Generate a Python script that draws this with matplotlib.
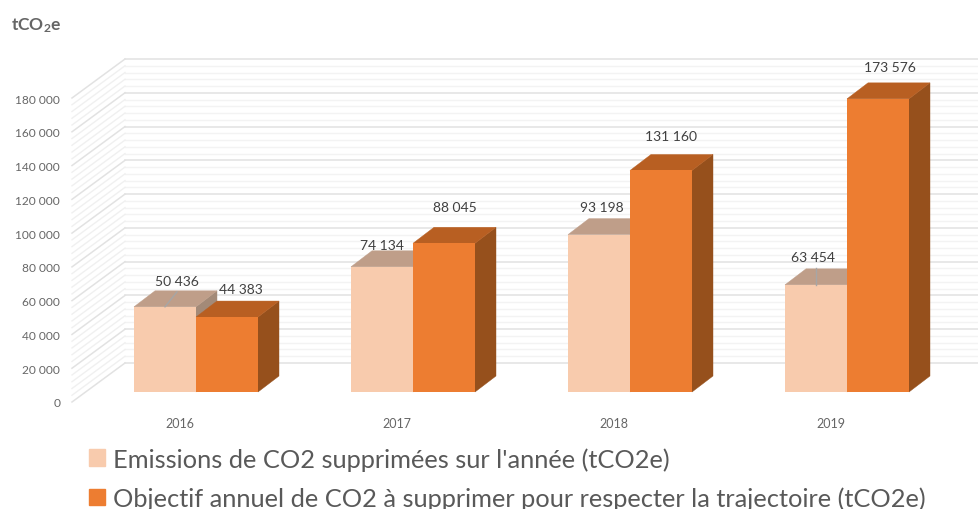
import matplotlib
matplotlib.use("Agg")
import matplotlib.pyplot as plt
import numpy as np
from matplotlib.patches import Patch, Polygon
from matplotlib.transforms import Affine2D

plt.rcParams['font.family'] = ['Lato', 'DejaVu Sans']
plt.rcParams['mathtext.default'] = 'regular'

#%% data
years = ["2016", "2017", "2018", "2019"]
emissions = [50436, 74134, 93198, 63454]
objectif = [44383, 88045, 131160, 173576]
name_emissions = "Emissions de CO2 supprimées sur l'année (tCO2e)"
name_objectif = "Objectif annuel de CO2 à supprimer pour respecter la trajectoire (tCO2e)"
major_ticks = np.arange(0, 180001, 20000)
minor_ticks = np.arange(0, 180001, 4000)

# label offsets from top centre of each bar, in pixels
offsets_emissions = [(12, 26), (0, 22), (3, 28), (-3, 28)]
offsets_objectif = [(14, 28), (11, 36), (10, 34), (12, 31.5)]

# colours: front, top, side
colors_emissions = ("#F8CBAD", "#BF9E89", "#A38A78")
colors_objectif = ("#ED7D31", "#B85F22", "#96501C")
text_color = "#595959"

#%% figure, one pixel = one display unit at dpi 100
W, H = 979, 510
fig = plt.figure(figsize=(W / 100, H / 100), dpi=100)
ax = fig.add_axes([72 / W, (H - 403) / H, (W - 72) / W, 304 / H])
ax.set_ylim(0, 180000)
ax.set_xlim(-124 / 217, 783 / 217)
for s in ax.spines.values():
    s.set_visible(False)
ax.patch.set_visible(False)

wall_dx, wall_dy = 53, 39
bar_shift = 10   # bars front plane above the front of the floor
bar_dx, bar_dy = 21, 16
bar_w = 62 / 217


def shifted(dx, dy):
    return ax.transData + Affine2D().translate(dx, dy)


#%% walls
x0, x1 = ax.get_xlim()
back = shifted(wall_dx, wall_dy)
for t in minor_ticks:
    if t in major_ticks:
        continue
    ax.plot([x0, x1], [t, t], transform=back, color="#f3f3f3", lw=1, clip_on=False, zorder=1)
    ax.plot([0, wall_dx], [0, wall_dy], color="#f0f0f0", lw=1, zorder=1, clip_on=False,
            transform=Affine2D().translate(*ax.transData.transform((x0, t))))
for t in major_ticks:
    ax.plot([x0, x1], [t, t], transform=back, color="#e4e4e4", lw=1.2, clip_on=False, zorder=1)
    ax.plot([0, wall_dx], [0, wall_dy], color="#e2e2e2", lw=1.1, zorder=1, clip_on=False,
            transform=Affine2D().translate(*ax.transData.transform((x0, t))))


#%% bars
def draw_bar(x_left, value, colors, z):
    front, top, side = colors
    base = shifted(0, bar_shift)
    x_right = x_left + bar_w
    fx0, fy0 = base.transform((x_left, 0))
    fx1, fy1 = base.transform((x_right, value))
    # side and top are built in pixels from the projected front face
    ax.add_patch(Polygon([(fx1, fy0), (fx1 + bar_dx, fy0 + bar_dy), (fx1 + bar_dx, fy1 + bar_dy), (fx1, fy1)],
                         closed=True, facecolor=side, edgecolor=side, lw=0.3,
                         transform=None, zorder=z, clip_on=False))
    ax.add_patch(Polygon([(fx0, fy1), (fx0 + bar_dx, fy1 + bar_dy), (fx1 + bar_dx, fy1 + bar_dy), (fx1, fy1)],
                         closed=True, facecolor=top, edgecolor=top, lw=0.3,
                         transform=None, zorder=z, clip_on=False))
    ax.bar(x_left, value, bar_w, align="edge", color=front, transform=base, zorder=z + 0.5, clip_on=False)
    return (fx0 + fx1) / 2, fy1


for i in range(len(years)):
    z = 2 + i
    xm1, ym1 = draw_bar(i - bar_w, emissions[i], colors_emissions, z)
    xm2, ym2 = draw_bar(i, objectif[i], colors_objectif, z + 0.6)
    for xm, ym, val, off in [(xm1, ym1, emissions[i], offsets_emissions[i]),
                             (xm2, ym2, objectif[i], offsets_objectif[i])]:
        label = f"{val:,}".replace(",", " ")
        ax.text(xm + off[0], ym + off[1], label, transform=None, ha="center", va="center",
                fontsize=10, color="#404040", zorder=10)

# leader lines, 2016 and 2019
for i, dx, dy in [(0, 12, 15), (3, 0, 17)]:
    xm, ym = shifted(0, bar_shift).transform((i - bar_w / 2, emissions[i]))
    ax.plot([xm, xm + dx], [ym, ym + dy], transform=None, color="#a6a6a6", lw=1, zorder=9, clip_on=False)

#%% axes text
ax.set_yticks(major_ticks, [f"{t:,}".replace(",", " ") for t in major_ticks])
ax.set_xticks(range(len(years)), years)
ax.tick_params(axis="y", length=0, pad=8.5, labelsize=8.6, labelcolor="#666666")
ax.tick_params(axis="x", length=0, pad=10.5, labelsize=9, labelcolor="#666666")
for lab in ax.get_xticklabels():
    lab.set_transform(lab.get_transform() + Affine2D().translate(-16, 0))

fig.text(11 / W, 1 - 26 / H, r"tCO$_2$e", fontsize=12.5, fontweight="bold", color="#666666", va="center")

handles = [Patch(color=colors_emissions[0], label=name_emissions),
           Patch(color=colors_objectif[0], label=name_objectif)]
fig.legend(handles=handles, loc="lower left", bbox_to_anchor=(84 / W, -6 / H), frameon=False,
           fontsize=18.3, labelcolor=text_color, handlelength=0.63, handleheight=0.63,
           handletextpad=0.31, labelspacing=0.62, borderpad=0.2, borderaxespad=0)

fig.savefig("out.png", dpi=100)
